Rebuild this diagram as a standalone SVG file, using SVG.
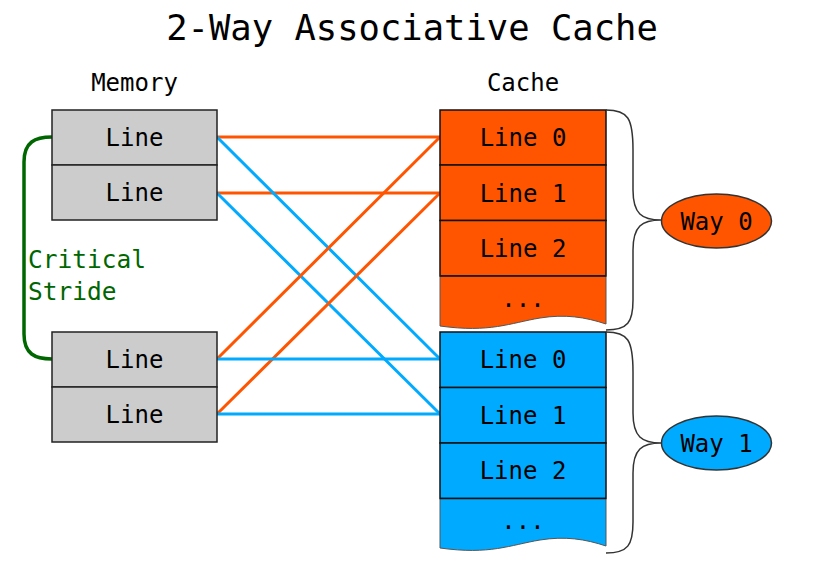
<svg xmlns="http://www.w3.org/2000/svg" width="824" height="562" viewBox="0 0 824 562">
<style>
text{font-family:"DejaVu Sans Mono","Liberation Mono",monospace;fill:#000}
.t{font-size:24px;text-anchor:middle}
.mem{fill:#cccccc;stroke:#222;stroke-width:1.5}
.or{fill:#ff5500;stroke:#111;stroke-width:1.5}
.bl{fill:#00aaff;stroke:#111;stroke-width:1.5}
.orw{fill:#ff5500;stroke:#555;stroke-width:1}
.blw{fill:#00aaff;stroke:#555;stroke-width:1}
.lo{stroke:#ff5500;stroke-width:3;fill:none}
.lb{stroke:#00aaff;stroke-width:3;fill:none}
.brace{fill:none;stroke:#333;stroke-width:1.5}
</style>
<rect width="824" height="562" fill="#fff"/>
<text x="412" y="40" style="font-size:35.5px;text-anchor:middle">2-Way Associative Cache</text>
<text x="134.5" y="91" class="t">Memory</text>
<text x="523" y="91" class="t">Cache</text>

<g id="connectors">
<line class="lo" x1="217" y1="137" x2="440" y2="137"/>
<line class="lo" x1="217" y1="193" x2="440" y2="193"/>
<line class="lb" x1="217" y1="137" x2="440" y2="359"/>
<line class="lb" x1="217" y1="193" x2="440" y2="414"/>
<line class="lo" x1="217" y1="359" x2="440" y2="137"/>
<line class="lo" x1="217" y1="414" x2="440" y2="193"/>
<line class="lb" x1="217" y1="359" x2="440" y2="359"/>
<line class="lb" x1="217" y1="414" x2="440" y2="414"/>
</g>

<g id="stride">
<path d="M52,137 C35,137 24,142 24,162 L24,334 C24,354 35,359 52,359" fill="none" stroke="#006600" stroke-width="3.5"/>
<text x="28" y="268" style="font-size:24.5px;fill:#006600">Critical</text>
<text x="28" y="300" style="font-size:24.5px;fill:#006600">Stride</text>
</g>

<g id="mem0"><rect class="mem" x="52" y="110" width="165" height="55"/><text x="134.5" y="145.5" class="t">Line</text></g>
<g id="mem1"><rect class="mem" x="52" y="165" width="165" height="55"/><text x="134.5" y="200.5" class="t">Line</text></g>
<g id="mem2"><rect class="mem" x="52" y="332" width="165" height="55"/><text x="134.5" y="367.5" class="t">Line</text></g>
<g id="mem3"><rect class="mem" x="52" y="387" width="165" height="55"/><text x="134.5" y="422.5" class="t">Line</text></g>

<g id="way0-line0"><rect class="or" x="440" y="110" width="166" height="55"/><text x="523" y="146" class="t">Line 0</text></g>
<g id="way0-line1"><rect class="or" x="440" y="165" width="166" height="55.5"/><text x="523" y="201.5" class="t">Line 1</text></g>
<g id="way0-line2"><rect class="or" x="440" y="220.5" width="166" height="55.5"/><text x="523" y="257" class="t">Line 2</text></g>
<g id="way0-more"><path class="orw" d="M440,276 H606 V324 C585,317 565,314 540,318 C510,323 490,333 440,326 Z"/><path d="M440,276 H606" stroke="#111" stroke-width="1.5"/><text x="523" y="307" class="t">...</text></g>

<g id="way1-line0"><rect class="bl" x="440" y="332" width="166" height="55.5"/><text x="523" y="368" class="t">Line 0</text></g>
<g id="way1-line1"><rect class="bl" x="440" y="387.5" width="166" height="55.5"/><text x="523" y="423.5" class="t">Line 1</text></g>
<g id="way1-line2"><rect class="bl" x="440" y="443" width="166" height="55.5"/><text x="523" y="479" class="t">Line 2</text></g>
<g id="way1-more"><path class="blw" d="M440,498.5 H606 V546 C585,539 565,536 540,540 C510,545 490,555 440,548 Z"/><path d="M440,498.5 H606" stroke="#111" stroke-width="1.5"/><text x="523" y="529" class="t">...</text></g>

<g id="brace0"><path class="brace" d="M606,110 C628,110 633,118 633,150 L633,190 C633,214 642,220 661,220 C642,220 633,226 633,250 L633,300 C633,322 628,330 606,330"/></g>
<g id="brace1"><path class="brace" d="M606,332 C628,332 633,340 633,372 L633,413 C633,437 642,443 661,443 C642,443 633,449 633,473 L633,522 C633,545 628,553 606,553"/></g>

<g id="way0"><ellipse cx="716.5" cy="221" rx="55" ry="27" fill="#ff5500" stroke="#333" stroke-width="1.5"/><text x="716.5" y="229.5" class="t">Way 0</text></g>
<g id="way1"><ellipse cx="716.5" cy="443" rx="55" ry="27" fill="#00aaff" stroke="#333" stroke-width="1.5"/><text x="716.5" y="451.5" class="t">Way 1</text></g>
</svg>
